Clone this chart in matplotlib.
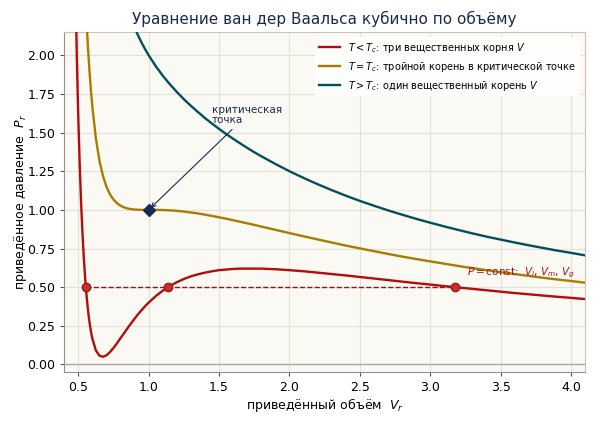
import numpy as np
import matplotlib
matplotlib.use('Agg')
import matplotlib.pyplot as plt

# reduced volume grid and isotherms
V = [0.460, 0.470, 0.480, 0.490, 0.500, 0.510, 0.520, 0.530, 0.540, 0.550, 0.560, 0.570, 0.580, 0.590,
     0.600, 0.625, 0.650, 0.675, 0.700, 0.725, 0.750, 0.775, 0.800, 0.825, 0.850, 0.875, 0.900, 0.925,
     0.950, 0.975, 1.000, 1.050, 1.100, 1.150, 1.200, 1.250, 1.300, 1.350, 1.400, 1.450, 1.500, 1.550,
     1.600, 1.650, 1.700, 1.750, 1.800, 1.900, 2.000, 2.100, 2.200, 2.300, 2.400, 2.500, 2.600, 2.700,
     2.800, 2.900, 3.000, 3.100, 3.200, 3.300, 3.400, 3.500, 3.600, 3.700, 3.800, 3.900, 4.000, 4.100]
P_low = [3.717, 3.005, 2.434, 1.973, 1.600, 1.296, 1.048, 0.845, 0.680, 0.544, 0.434, 0.344, 0.271, 0.213,
         0.167, 0.091, 0.057, 0.050, 0.059, 0.080, 0.107, 0.137, 0.170, 0.202, 0.235, 0.266, 0.296, 0.325,
         0.352, 0.377, 0.400, 0.442, 0.477, 0.507, 0.532, 0.553, 0.570, 0.583, 0.594, 0.603, 0.610, 0.614,
         0.618, 0.620, 0.620, 0.620, 0.620, 0.616, 0.610, 0.603, 0.594, 0.585, 0.576, 0.566, 0.556, 0.546,
         0.536, 0.526, 0.517, 0.507, 0.498, 0.489, 0.480, 0.471, 0.462, 0.454, 0.446, 0.438, 0.431, 0.423]
P_crit = [6.875, 5.931, 5.161, 4.526, 4.000, 3.560, 3.191, 2.879, 2.615, 2.390, 2.198, 2.034, 1.893, 1.771,
          1.667, 1.463, 1.320, 1.221, 1.150, 1.101, 1.067, 1.043, 1.027, 1.016, 1.009, 1.005, 1.002, 1.001,
          1.000, 1.000, 1.000, 1.000, 0.999, 0.997, 0.994, 0.989, 0.983, 0.977, 0.969, 0.961, 0.952, 0.943,
          0.933, 0.923, 0.913, 0.903, 0.892, 0.871, 0.850, 0.829, 0.809, 0.789, 0.769, 0.751, 0.733, 0.715,
          0.698, 0.682, 0.667, 0.652, 0.637, 0.623, 0.610, 0.597, 0.585, 0.573, 0.561, 0.550, 0.540, 0.529]
P_high = [12.138, 10.809, 9.706, 8.782, 8.000, 7.334, 6.762, 6.269, 5.841, 5.467, 5.140, 4.851, 4.596, 4.369,
          4.167, 3.749, 3.426, 3.172, 2.968, 2.803, 2.667, 2.552, 2.455, 2.372, 2.299, 2.235, 2.179, 2.128,
          2.081, 2.039, 2.000, 1.930, 1.868, 1.813, 1.763, 1.716, 1.673, 1.633, 1.594, 1.558, 1.524, 1.491,
          1.460, 1.430, 1.401, 1.373, 1.347, 1.297, 1.250, 1.207, 1.166, 1.128, 1.092, 1.058, 1.027, 0.997,
          0.969, 0.942, 0.917, 0.893, 0.870, 0.848, 0.827, 0.808, 0.789, 0.771, 0.754, 0.737, 0.722, 0.706]

P_const = 0.5
V_roots = [0.554, 1.137, 3.176]   # V_l, V_m, V_g
crit = (1.0, 1.0)

labels = [r'$T < T_c$: три вещественных корня $V$',
          r'$T = T_c$: тройной корень в критической точке',
          r'$T > T_c$: один вещественный корень $V$']
colors = ['#b30c0c', '#a87c00', '#00505c']

plt.rcParams['font.family'] = 'DejaVu Sans'
fig = plt.figure(figsize=(6, 4.22), dpi=100)
ax = fig.add_axes([0.107, 0.118, 0.868, 0.806])
ax.set_facecolor('#faf9f4')

ax.axhline(0, color='#a8a8a8', lw=1.0, zorder=1)
for P, c, lab in zip([P_low, P_crit, P_high], colors, labels):
    ax.plot(V, P, color=c, lw=1.7, label=lab, zorder=3)

ax.plot([V_roots[0], V_roots[-1]], [P_const, P_const], '--', color='#a01010', lw=1.0, zorder=2)
ax.plot(V_roots, [P_const]*3, 'o', color='#c8322a', mec='#a01515', ms=6, zorder=4)
ax.text(3.26, 0.59, r'$P = \mathrm{const}$:  $V_l$, $V_m$, $V_g$', color='#b01010',
        fontsize=7.5, va='center', ha='left')

ax.plot(*crit, 'D', color='#1a2a52', ms=6.5, zorder=5)
ax.annotate('критическая\nточка', xy=crit, xytext=(1.45, 1.55), fontsize=7.5, color='#1a2a52',
            ha='left', va='bottom', linespacing=0.95,
            arrowprops=dict(arrowstyle='->', color='#1a2a52', lw=0.8))

ax.set_xlim(0.4, 4.1)
ax.set_ylim(-0.05, 2.15)
ax.set_xticks(np.arange(0.5, 4.01, 0.5))
ax.set_yticks(np.arange(0, 2.01, 0.25))
ax.grid(color='#e6e1d6', lw=0.8)
ax.set_axisbelow(True)
ax.tick_params(direction='out', length=3, labelsize=9, color='#555555')
for s in ['left', 'bottom']:
    ax.spines[s].set_color('#9a9085')
for s in ['top', 'right']:
    ax.spines[s].set_color('#c8c4bc')

ax.set_xlabel(r'приведённый объём  $V_r$', fontsize=9, labelpad=1)
ax.set_ylabel(r'приведённое давление  $P_r$', fontsize=9, labelpad=-1.5)
ax.set_title('Уравнение ван дер Ваальса кубично по объёму', fontsize=11, color='#1a2a4a')

leg = ax.legend(loc='upper right', fontsize=7, frameon=True, framealpha=1.0,
                facecolor='#fdfdfb', edgecolor='none', handlelength=2.2)

fig.savefig('out.png', dpi=100)
